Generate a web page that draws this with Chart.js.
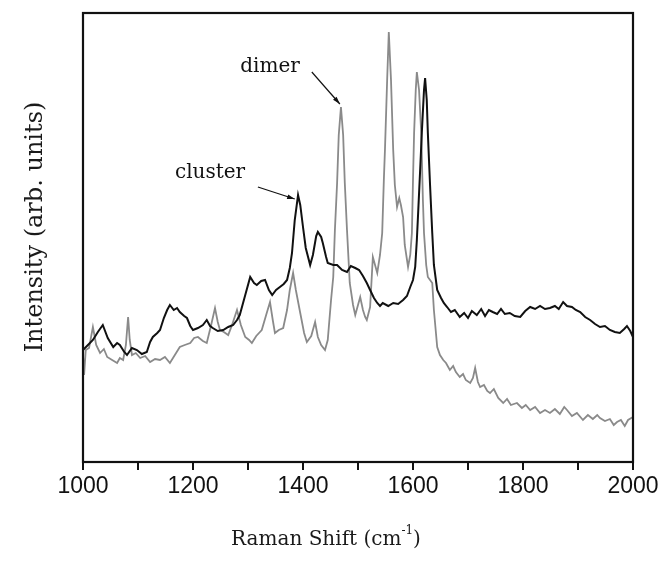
<!DOCTYPE html>
<html>
<head>
<meta charset="utf-8">
<script src="https://cdn.jsdelivr.net/npm/chart.js@4"></script>
<style>
  html, body { margin: 0; padding: 0; background: #fff; }
  #wrap { width: 664px; height: 563px; }
</style>
</head>
<body>
<div id="wrap"><canvas id="ramanChart"></canvas></div>
<script>
// Raman shift (cm-1) and intensity (arb. units)

// cluster spectrum (black)
const clusterShift = [1000, 1009, 1018, 1027, 1036, 1045, 1055, 1062, 1067, 1075, 1080, 1089, 1098, 1107, 1116, 1122, 1127, 1135, 1140, 1147,
  1153, 1158, 1165, 1171, 1176, 1184, 1189, 1195, 1200, 1209, 1218, 1225, 1231, 1236, 1245, 1255, 1264, 1273, 1280, 1285,
  1295, 1304, 1311, 1316, 1324, 1331, 1338, 1344, 1351, 1358, 1365, 1371, 1376, 1380, 1385, 1391, 1395, 1400, 1405, 1413,
  1418, 1424, 1427, 1433, 1436, 1442, 1445, 1455, 1462, 1471, 1480, 1487, 1495, 1502, 1509, 1516, 1522, 1529, 1535, 1540,
  1545, 1555, 1564, 1573, 1582, 1589, 1595, 1600, 1604, 1607, 1609, 1613, 1616, 1620, 1622, 1625, 1627, 1631, 1635, 1638,
  1644, 1651, 1656, 1662, 1669, 1676, 1685, 1693, 1700, 1707, 1716, 1724, 1731, 1738, 1745, 1753, 1760, 1767, 1776, 1785,
  1795, 1804, 1813, 1822, 1831, 1840, 1849, 1858, 1865, 1873, 1880, 1889, 1896, 1904, 1913, 1922, 1931, 1940, 1949, 1958,
  1967, 1976, 1984, 1989, 1995, 2000];
const clusterIntensity = [112, 117, 122, 130, 137, 124, 115, 119, 117, 110, 107, 114, 112, 108, 110, 120, 125, 129, 132, 144,
  152, 157, 152, 154, 150, 146, 144, 136, 132, 134, 137, 142, 136, 134, 131, 132, 135, 137, 142, 147,
  167, 185, 179, 177, 181, 182, 172, 167, 172, 175, 178, 182, 194, 209, 242, 267, 257, 235, 214, 197,
  207, 226, 230, 225, 219, 205, 199, 197, 197, 192, 190, 196, 194, 192, 186, 179, 172, 164, 159, 156,
  159, 156, 159, 158, 162, 166, 175, 182, 195, 222, 245, 292, 329, 372, 384, 362, 329, 277, 229, 197,
  172, 164, 159, 155, 150, 152, 145, 149, 144, 151, 147, 153, 146, 152, 150, 148, 153, 148, 149, 146,
  145, 151, 155, 153, 156, 153, 154, 156, 153, 160, 156, 155, 152, 150, 145, 142, 138, 135, 136, 132,
  130, 129, 133, 136, 131, 125];

// dimer spectrum (gray)
const dimerShift = [1000, 1002, 1005, 1011, 1018, 1024, 1031, 1038, 1044, 1053, 1062, 1067, 1073, 1078, 1082, 1085, 1089, 1096, 1104, 1113,
  1122, 1131, 1140, 1149, 1158, 1167, 1176, 1185, 1195, 1202, 1209, 1218, 1225, 1233, 1240, 1245, 1249, 1256, 1264, 1271,
  1280, 1287, 1295, 1302, 1307, 1315, 1325, 1333, 1340, 1345, 1349, 1356, 1364, 1371, 1376, 1382, 1387, 1395, 1402, 1407,
  1415, 1422, 1427, 1433, 1440, 1445, 1451, 1455, 1458, 1462, 1465, 1469, 1473, 1476, 1480, 1485, 1491, 1495, 1500, 1504,
  1509, 1513, 1516, 1522, 1527, 1531, 1535, 1540, 1544, 1547, 1549, 1553, 1556, 1560, 1564, 1567, 1571, 1575, 1578, 1582,
  1585, 1591, 1595, 1598, 1600, 1602, 1605, 1607, 1611, 1615, 1618, 1620, 1624, 1627, 1631, 1635, 1638, 1644, 1649, 1655,
  1660, 1667, 1673, 1678, 1685, 1691, 1696, 1704, 1709, 1713, 1718, 1722, 1729, 1735, 1740, 1747, 1755, 1764, 1771, 1778,
  1789, 1798, 1805, 1813, 1822, 1831, 1840, 1849, 1858, 1867, 1875, 1880, 1889, 1898, 1909, 1918, 1927, 1935, 1940, 1949,
  1958, 1965, 1971, 1978, 1985, 1991, 2000];
const dimerIntensity = [107, 87, 112, 114, 135, 117, 109, 113, 105, 102, 99, 104, 102, 117, 145, 122, 107, 109, 104, 106,
  100, 103, 102, 105, 99, 107, 115, 117, 119, 124, 125, 121, 119, 137, 154, 140, 132, 130, 127, 137,
  152, 137, 125, 122, 119, 126, 132, 147, 160, 142, 129, 132, 134, 152, 172, 189, 172, 149, 129, 120,
  126, 140, 125, 117, 112, 122, 162, 185, 232, 279, 327, 355, 327, 279, 232, 179, 157, 147, 157, 165,
  152, 145, 142, 155, 205, 197, 189, 207, 229, 282, 312, 382, 430, 382, 312, 277, 255, 264, 257, 245,
  217, 195, 207, 229, 282, 329, 372, 390, 372, 329, 262, 229, 197, 185, 182, 179, 152, 115, 107, 102,
  99, 92, 96, 90, 85, 88, 82, 79, 84, 94, 80, 75, 77, 71, 69, 73, 64, 59, 63, 57,
  59, 54, 57, 52, 55, 49, 52, 49, 53, 48, 55, 52, 46, 49, 42, 47, 43, 47, 44, 41,
  43, 37, 40, 42, 36, 42, 45];

// x axis
const xMin = 1000;
const xMax = 2000;
const xStep = 100;
const xLabelStep = 200;

// annotations: label, text anchor, arrow start, arrow tip (shift, intensity)
const noteLabels = ['dimer', 'cluster'];
const noteText = [[1340, 395], [1231, 289]];
const noteArrowFrom = [[1416, 390], [1318, 275]];
const noteArrowTo = [[1467, 358], [1385, 263]];

const serif = '"DejaVu Serif", serif';

function toPoints(xs, ys) {
  return xs.map((x, i) => ({ x: x, y: ys[i] }));
}

// frame around the plot area
const frameBox = {
  id: 'frameBox',
  afterDraw(chart) {
    const { ctx, chartArea } = chart;
    ctx.save();
    ctx.strokeStyle = '#111';
    ctx.lineWidth = 2.2;
    ctx.strokeRect(chartArea.left, chartArea.top, chartArea.right - chartArea.left, chartArea.bottom - chartArea.top);
    ctx.restore();
  }
};

// axis titles (x title has a superscript)
const axisTitles = {
  id: 'axisTitles',
  afterDraw(chart) {
    const { ctx, chartArea } = chart;
    ctx.save();
    ctx.fillStyle = '#1a1a1a';
    ctx.textBaseline = 'alphabetic';
    ctx.textAlign = 'left';

    // x title
    const main = 'Raman Shift (cm';
    const sup = '-1';
    const tail = ')';
    ctx.font = '20px ' + serif;
    const wMain = ctx.measureText(main).width;
    const wTail = ctx.measureText(tail).width;
    ctx.font = '12px ' + serif;
    const wSup = ctx.measureText(sup).width;
    let x = 326 - (wMain + wSup + wTail) / 2;
    const base = 545;
    ctx.font = '20px ' + serif;
    ctx.fillText(main, x, base);
    x += wMain;
    ctx.font = '12px ' + serif;
    ctx.fillText(sup, x, base - 11);
    x += wSup;
    ctx.font = '20px ' + serif;
    ctx.fillText(tail, x, base);

    // y title
    ctx.translate(36, 227);
    ctx.rotate(-Math.PI / 2);
    ctx.font = '24px ' + serif;
    ctx.textAlign = 'center';
    ctx.textBaseline = 'middle';
    ctx.fillText('Intensity (arb. units)', 0, 0);
    ctx.restore();
  }
};

// text labels with arrows pointing at the peaks
const peakNotes = {
  id: 'peakNotes',
  afterDatasetsDraw(chart) {
    const { ctx } = chart;
    const xs = chart.scales.x;
    const ys = chart.scales.y;
    ctx.save();
    ctx.fillStyle = '#111';
    ctx.strokeStyle = '#111';
    ctx.lineWidth = 1.2;
    ctx.font = '20px ' + serif;
    ctx.textAlign = 'center';
    ctx.textBaseline = 'middle';
    noteLabels.forEach((label, i) => {
      ctx.fillText(label, xs.getPixelForValue(noteText[i][0]), ys.getPixelForValue(noteText[i][1]));
      const x1 = xs.getPixelForValue(noteArrowFrom[i][0]);
      const y1 = ys.getPixelForValue(noteArrowFrom[i][1]);
      const x2 = xs.getPixelForValue(noteArrowTo[i][0]);
      const y2 = ys.getPixelForValue(noteArrowTo[i][1]);
      ctx.beginPath();
      ctx.moveTo(x1, y1);
      ctx.lineTo(x2, y2);
      ctx.stroke();
      // arrow head
      const a = Math.atan2(y2 - y1, x2 - x1);
      const len = 8;
      ctx.beginPath();
      ctx.moveTo(x2, y2);
      ctx.lineTo(x2 - len * Math.cos(a - 0.3), y2 - len * Math.sin(a - 0.3));
      ctx.lineTo(x2 - len * Math.cos(a + 0.3), y2 - len * Math.sin(a + 0.3));
      ctx.closePath();
      ctx.fill();
    });
    ctx.restore();
  }
};

const ctx = document.getElementById('ramanChart').getContext('2d');

new Chart(ctx, {
  type: 'line',
  data: {
    datasets: [
      {
        label: 'cluster',
        data: toPoints(clusterShift, clusterIntensity),
        borderColor: '#111111',
        borderWidth: 2,
        pointRadius: 0,
        tension: 0
      },
      {
        label: 'dimer',
        data: toPoints(dimerShift, dimerIntensity),
        borderColor: '#8a8a8a',
        borderWidth: 1.8,
        pointRadius: 0,
        tension: 0
      }
    ]
  },
  options: {
    responsive: true,
    maintainAspectRatio: false,
    animation: false,
    layout: {
      padding: { top: 13, right: 31, left: 0, bottom: 0 }
    },
    plugins: {
      legend: { display: false },
      tooltip: { enabled: false }
    },
    scales: {
      x: {
        type: 'linear',
        min: xMin,
        max: xMax,
        afterFit: (scale) => { scale.height = 101; },
        afterBuildTicks: (scale) => {
          const t = [];
          for (let v = xMin; v <= xMax; v += xStep) t.push({ value: v });
          scale.ticks = t;
        },
        ticks: {
          autoSkip: false,
          maxRotation: 0,
          padding: 3,
          color: '#111',
          font: { family: '"Liberation Sans", Arial, sans-serif', size: 23 },
          callback: (v) => (v % xLabelStep === 0 ? String(v) : '')
        },
        grid: {
          display: true,
          drawOnChartArea: false,
          drawTicks: true,
          tickLength: 8,
          color: '#111',
          lineWidth: 2
        },
        border: { display: false },
        title: { display: false }
      },
      y: {
        type: 'linear',
        min: 0,
        max: 449,
        afterFit: (scale) => { scale.width = 83; },
        ticks: { display: false },
        grid: { display: false },
        border: { display: false },
        title: { display: false }
      }
    }
  },
  plugins: [frameBox, peakNotes, axisTitles]
});
</script>
</body>
</html>
